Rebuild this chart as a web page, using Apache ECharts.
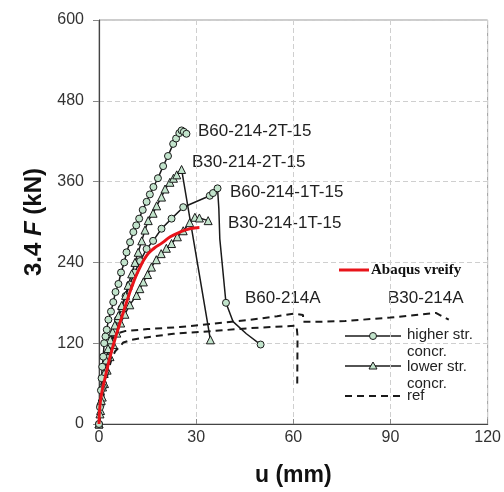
<!DOCTYPE html>
<html><head><meta charset="utf-8">
<script src="https://cdn.jsdelivr.net/npm/echarts@6/dist/echarts.min.js"></script>
<style>html,body{margin:0;padding:0;background:#fff}#c{width:504px;height:492px}</style>
</head><body><div id="c"></div>
<script>
// ---- data (u in mm, 3.4F in kN) ----
const xTicks = [0, 30, 60, 90, 120];
const yTicks = [0, 120, 240, 360, 480, 600];

const b60_2T_u = [0,0.3,0.6,0.8,1.0,1.3,1.6,2.0,2.4,2.9,3.7,4.4,5.1,6.0,6.8,7.8,8.5,9.6,10.6,11.5,12.4,13.5,14.7,15.7,16.8,18.2,19.8,21.3,22.9,23.8,24.8,25.5,26.2,27.0];
const b60_2T_F = [0,25,50,68,85,100,120,130,140,155,167,181,196,208,225,240,255,270,285,295,305,318,330,341,352,365,383,398,416,424,432,436,434,431];

const b30_2T_u = [0,0.3,0.7,1.1,1.6,2.2,2.8,3.5,4.2,4.9,6.0,7.0,8.2,9.0,10.1,11.1,12.1,13.2,14.2,15.2,16.7,17.8,19.3,20.4,21.9,23.0,24.0,25.5,34.4];
const b30_2T_F = [0,15,35,55,75,95,112,125,137,147,161,176,191,206,223,240,255,272,288,302,313,324,337,349,359,365,370,378,125];

const b60_1T_u = [0,0.5,1.2,2.0,2.8,3.7,4.7,5.8,7.0,8.2,9.5,11.0,12.7,14.7,16.7,19.3,22.4,26.0,34.2,35.2,36.6,37.0,37.3,39.2,41.4,45.5,49.9];
const b60_1T_F = [0,28,55,78,98,118,137,155,172,190,207,225,242,260,272,290,305,322,339,343,350,320,275,180,152,134,118];
const b60_1T_noMark = [21,22,24,25]; // indices drawn without a marker

const b30_1T_u = [0,0.5,1.0,1.7,2.5,3.4,4.4,5.5,6.7,8.0,9.5,11.6,12.6,13.7,15.0,16.2,17.7,19.2,20.8,22.4,24.2,26.0,28.0,29.6,31.0,33.7];
const b30_1T_F = [0,20,40,60,80,100,118,135,150,163,177,191,201,211,222,233,244,253,261,268,278,287,299,307,306,302];

const abaqus_u = [0,0.3,1.0,1.85,3.0,4.4,6.0,7.5,9.0,10.6,12.5,14.7,17.0,19.5,22.0,25.0,28.0,31.0];
const abaqus_F = [0,28,50,68,92,117,143,166,188,210,231,250,261,269,278,285,290,292];

const b60A_u = [0,1,2,3,4,5,6,7.5,10,15,23,35,45.5,61,61.3,61.2];
const b60A_F = [0,30,60,82,98,108,113,121,125,129,134,138,142,146,130,55];

const b30A_u = [0,1,2,3,4,5,6,8,15,25,35,45.5,55,60.4,63,63,70,76,90,104,108];
const b30A_F = [0,45,85,110,125,132,135,138,141,144,149,154,160,164,162,152,152,153,158,165,155];

const curveLabels = ['B60-214-2T-15','B30-214-2T-15','B60-214-1T-15','B30-214-1T-15','B60-214A','B30-214A'];
const legendNames = ['higher str.','concr.','lower str.','concr.','ref'];
const abaqusName = 'Abaqus vreify';

// ---- build ----
const zip = (a,b) => a.map((v,i)=>[v,b[i]]);
const GREEN = '#c2e4cc', INK = '#1a1a1a';
const markStyle = {color: GREEN, borderColor: INK, borderWidth: 1};

function expSeries(u, F, sym, noMark) {
  const data = zip(u,F).map((p,i)=> (noMark && noMark.includes(i)) ? {value:p, symbol:'none'} : p);
  return {type:'line', data, symbol:sym, symbolSize: sym==='triangle'?8:7, showAllSymbol:true,
    lineStyle:{color:INK,width:1.5}, itemStyle:markStyle, z:3, animation:false, silent:true};
}
function refSeries(u,F){
  return {type:'line', data:zip(u,F), symbol:'none', lineStyle:{color:INK,width:2,type:[7,5]}, z:2, animation:false, silent:true};
}

const chart = echarts.init(document.getElementById('c'));
const FONT = 'Liberation Sans, Arial, sans-serif';
const txt = (x,y,t,extra) => Object.assign({type:'text', x, y, style:Object.assign({text:t, font:'17px '+FONT, fill:'#222', textVerticalAlign:'middle'}, extra||{})});

chart.setOption({
  backgroundColor:'#fff',
  animation:false,
  grid:{left:99, right:16, top:20, bottom:66, show:true, borderColor:'#9a9a9a', borderWidth:1},
  xAxis:{type:'value', min:xTicks[0], max:xTicks[xTicks.length-1], interval:30,
    name:'u (mm)', nameLocation:'middle', nameGap:40,
    nameTextStyle:{fontFamily:FONT, fontSize:23, fontWeight:'bold', color:'#111'},
    axisLine:{lineStyle:{color:'#444', width:1.2}},
    axisTick:{show:true, inside:true, length:5, lineStyle:{color:'#888'}},
    axisLabel:{fontFamily:FONT, fontSize:16, color:'#333', margin:6},
    splitLine:{show:true, lineStyle:{color:'#cfcfcf', type:[5,3], width:1}}},
  yAxis:{type:'value', min:yTicks[0], max:yTicks[yTicks.length-1], interval:120,
    name:'3.4 {i|F} (kN)', nameLocation:'middle', nameGap:47, nameRotate:90,
    nameTextStyle:{fontFamily:FONT, fontSize:24, fontWeight:'bold', color:'#111',
      rich:{i:{fontFamily:FONT, fontSize:24, fontWeight:'bold', fontStyle:'italic', color:'#111'}}},
    axisLine:{show:true, lineStyle:{color:'#444', width:1.2}},
    axisTick:{show:true, inside:false, length:6, lineStyle:{color:'#888'}},
    axisLabel:{fontFamily:FONT, fontSize:16, color:'#333', margin:15},
    splitLine:{show:true, lineStyle:{color:'#cfcfcf', type:[5,3], width:1}}},
  series:[
    refSeries(b60A_u,b60A_F),
    refSeries(b30A_u,b30A_F),
    expSeries(b30_1T_u,b30_1T_F,'triangle'),
    expSeries(b60_1T_u,b60_1T_F,'circle', b60_1T_noMark),
    expSeries(b30_2T_u,b30_2T_F,'triangle'),
    expSeries(b60_2T_u,b60_2T_F,'circle'),
    {type:'line', data:zip(abaqus_u,abaqus_F), symbol:'none', smooth:true,
     lineStyle:{color:'#e8141a', width:3}, z:5, animation:false, silent:true}
  ],
  graphic:[
    txt(198,131,curveLabels[0]),
    txt(192,162,curveLabels[1]),
    txt(230,192,curveLabels[2]),
    txt(228,223,curveLabels[3]),
    txt(245,298,curveLabels[4]),
    txt(388,298,curveLabels[5]),
    // Abaqus legend
    {type:'line', shape:{x1:339,y1:270,x2:369,y2:270}, style:{stroke:'#e8141a', lineWidth:3}},
    txt(371,270,abaqusName,{font:'bold 15px Liberation Serif, Times New Roman, serif', fill:'#111'}),
    // legend samples
    {type:'line', shape:{x1:345,y1:336,x2:401,y2:336}, style:{stroke:INK, lineWidth:1.5}},
    {type:'circle', shape:{cx:373,cy:336,r:3.5}, style:{fill:GREEN, stroke:INK, lineWidth:1}},
    {type:'line', shape:{x1:345,y1:366,x2:401,y2:366}, style:{stroke:INK, lineWidth:1.5}},
    {type:'polygon', shape:{points:[[373,362],[369,369],[377,369]]}, style:{fill:GREEN, stroke:INK, lineWidth:1}},
    {type:'line', shape:{x1:345,y1:396,x2:401,y2:396}, style:{stroke:INK, lineWidth:2, lineDash:[7,5]}},
    txt(407,335,legendNames[0],{font:'15px '+FONT}),
    txt(407,352,legendNames[1],{font:'15px '+FONT}),
    txt(407,367,legendNames[2],{font:'15px '+FONT}),
    txt(407,384,legendNames[3],{font:'15px '+FONT}),
    txt(407,396,legendNames[4],{font:'15px '+FONT})
  ]
});
</script></body></html>
